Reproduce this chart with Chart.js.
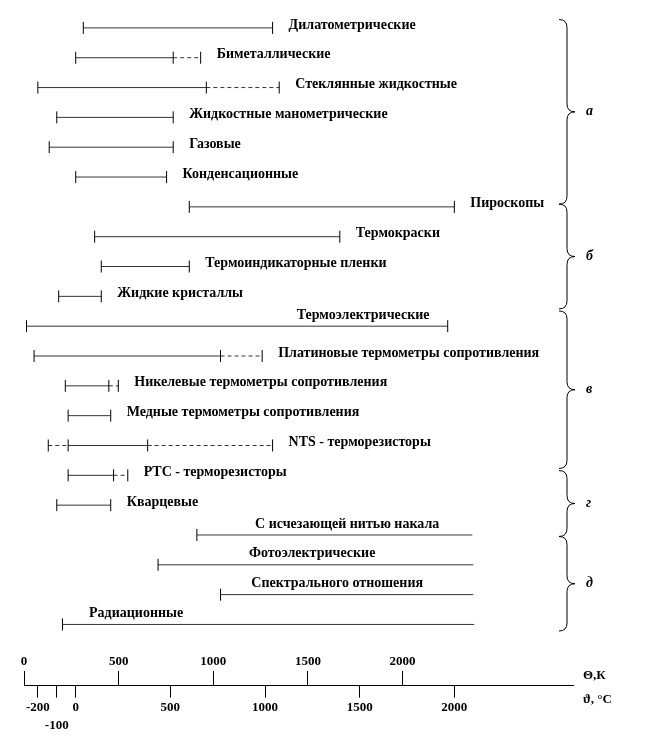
<!DOCTYPE html>
<html lang="ru">
<head>
<meta charset="UTF-8">
<title>Диапазоны измерения температуры</title>
<script src="https://cdn.jsdelivr.net/npm/chart.js"></script>
<style>
  html, body { margin: 0; padding: 0; background: #fff; }
</style>
</head>
<body>
<canvas id="chart" width="650" height="756"></canvas>
<script>
// методы измерения (сверху вниз)
const methods = [
  'Дилатометрические', 'Биметаллические', 'Стеклянные жидкостные',
  'Жидкостные манометрические', 'Газовые', 'Конденсационные', 'Пироскопы',
  'Термокраски', 'Термоиндикаторные пленки', 'Жидкие кристаллы',
  'Термоэлектрические', 'Платиновые термометры сопротивления',
  'Никелевые термометры сопротивления', 'Медные термометры сопротивления',
  'NTS - терморезисторы', 'PTC - терморезисторы', 'Кварцевые',
  'С исчезающей нитью накала', 'Фотоэлектрические', 'Спектрального отношения',
  'Радиационные'
];
// основной диапазон, °C
const lowC  = [40, 0, -200, -100, -140, 0, 600, 100, 135, -90, -260, -220, -55, -40, -40, -40, -100, 640, 435, 765, -70];
const highC = [1040, 515, 690, 515, 515, 480, 2000, 1395, 600, 135, 1965, 765, 175, 185, 380, 200, 185, 2095, 2100, 2100, 2105];
// расширение диапазона (штрихом), °C
const extLowC  = [null, null, null, null, null, null, null, null, null, null, null, null, null, null, -145, null, null, null, null, null, null];
const extHighC = [null, 660, 1075, null, null, null, null, null, null, null, null, 985, 225, null, 1040, 275, null, null, null, null, null];
// группы методов
const groups = ['а', 'б', 'в', 'г', 'д'];
// шкалы
const kelvinTicks = [0, 500, 1000, 1500, 2000];
const celsiusTicks = [-200, -100, 0, 500, 1000, 1500, 2000];

// --- оформление ---
const SERIF = '"Liberation Serif", "Times New Roman", serif';
const T0 = 273.15;
const C_MIN = -T0, C_MAX = 2900 - T0;
const Y_MIN = -0.6, Y_MAX = 22.05;
const openTop = new Set([17, 18, 19, 20]);          // без засечки справа
const labelAbove = {10: 1518, 17: 1434, 18: 1249, 19: 1381, 20: 319}; // подпись над линией
const braceRows = [[-0.28, 5.91], [5.91, 9.42], [9.49, 14.77], [14.84, 17.05], [17.05, 20.22]];
const lineColor = '#333';

const datasets = [];
methods.forEach((name, i) => {
  datasets.push({
    data: [{x: lowC[i], y: i}, {x: highC[i], y: i}],
    pointRadius: [6, openTop.has(i) ? 0 : 6]
  });
  if (extLowC[i] !== null) {
    datasets.push({data: [{x: extLowC[i], y: i}, {x: lowC[i], y: i}], pointRadius: [6, 0], borderDash: [4, 3]});
  }
  if (extHighC[i] !== null) {
    datasets.push({data: [{x: highC[i], y: i}, {x: extHighC[i], y: i}], pointRadius: [0, 6], borderDash: [4, 3]});
  }
});
datasets.forEach(d => Object.assign(d, {
  showLine: true, borderColor: lineColor, borderWidth: 1,
  pointStyle: 'line', rotation: 90, pointBorderColor: '#000', pointBorderWidth: 1,
  pointHoverRadius: 0
}));

const textPlugin = {
  id: 'texts',
  afterDatasetsDraw(chart) {
    const {ctx, chartArea} = chart;
    const xs = chart.scales.x, ys = chart.scales.y;
    ctx.save();
    ctx.fillStyle = '#000';
    ctx.font = 'bold 14px ' + SERIF;
    ctx.textBaseline = 'middle';
    methods.forEach((name, i) => {
      const y = ys.getPixelForValue(i);
      if (labelAbove[i] !== undefined) {
        ctx.textAlign = 'center';
        ctx.fillText(name, xs.getPixelForValue(labelAbove[i]), y - 11);
      } else {
        const end = extHighC[i] !== null ? extHighC[i] : highC[i];
        ctx.textAlign = 'left';
        ctx.fillText(name, xs.getPixelForValue(end) + 16, y - 3);
      }
    });
    // фигурные скобки
    const bx = chartArea.right - 6;
    ctx.strokeStyle = '#000';
    ctx.lineWidth = 1;
    braceRows.forEach(([a, b], g) => {
      const top = ys.getPixelForValue(a), bottom = ys.getPixelForValue(b);
      const mid = (top + bottom) / 2, w = 8, h = 8;
      ctx.beginPath();
      ctx.moveTo(bx - w, top);
      ctx.quadraticCurveTo(bx, top, bx, top + h);
      ctx.lineTo(bx, mid - h);
      ctx.quadraticCurveTo(bx, mid, bx + w, mid);
      ctx.quadraticCurveTo(bx, mid, bx, mid + h);
      ctx.lineTo(bx, bottom - h);
      ctx.quadraticCurveTo(bx, bottom, bx - w, bottom);
      ctx.stroke();
      ctx.font = 'italic bold 14px ' + SERIF;
      ctx.textAlign = 'left';
      ctx.fillText(groups[g], chartArea.right + 13, mid);
    });
    // обозначения шкал
    ctx.font = 'bold 13px ' + SERIF;
    ctx.textAlign = 'left';
    ctx.fillText('Θ,К', chartArea.right + 10, chartArea.bottom - 10);
    ctx.fillText('ϑ, °С', chartArea.right + 10, chartArea.bottom + 14);
    ctx.restore();
  }
};

new Chart(document.getElementById('chart'), {
  type: 'scatter',
  data: {datasets},
  options: {
    responsive: false,
    animation: false,
    events: [],
    layout: {padding: {left: 24, right: 77, top: 10, bottom: 20}},
    plugins: {legend: {display: false}, tooltip: {enabled: false}},
    scales: {
      y: {
        type: 'linear', reverse: true, min: Y_MIN, max: Y_MAX, display: false
      },
      x: {
        type: 'linear', position: 'bottom', min: C_MIN, max: C_MAX,
        afterBuildTicks: s => { s.ticks = celsiusTicks.map(v => ({value: v})); },
        grid: {drawOnChartArea: false, drawTicks: true, tickLength: 12, color: '#000'},
        border: {display: true, color: '#000', width: 1},
        ticks: {
          autoSkip: false, maxRotation: 0, padding: 1, color: '#000',
          font: {family: SERIF, size: 13, weight: 'bold', lineHeight: 1.4},
          callback: v => v === -100 ? ['', '-100'] : String(v)
        }
      },
      xK: {
        axis: 'x', type: 'linear', position: {y: Y_MAX}, min: C_MIN + T0, max: C_MAX + T0,
        afterBuildTicks: s => { s.ticks = kelvinTicks.map(v => ({value: v})); },
        grid: {drawOnChartArea: false, drawTicks: true, tickLength: -15, color: '#000'},
        border: {display: false},
        ticks: {
          autoSkip: false, maxRotation: 0, padding: -18, color: '#000',
          font: {family: SERIF, size: 13, weight: 'bold', lineHeight: 1.4},
          callback: v => String(v)
        }
      }
    }
  },
  plugins: [textPlugin]
});
</script>
</body>
</html>
